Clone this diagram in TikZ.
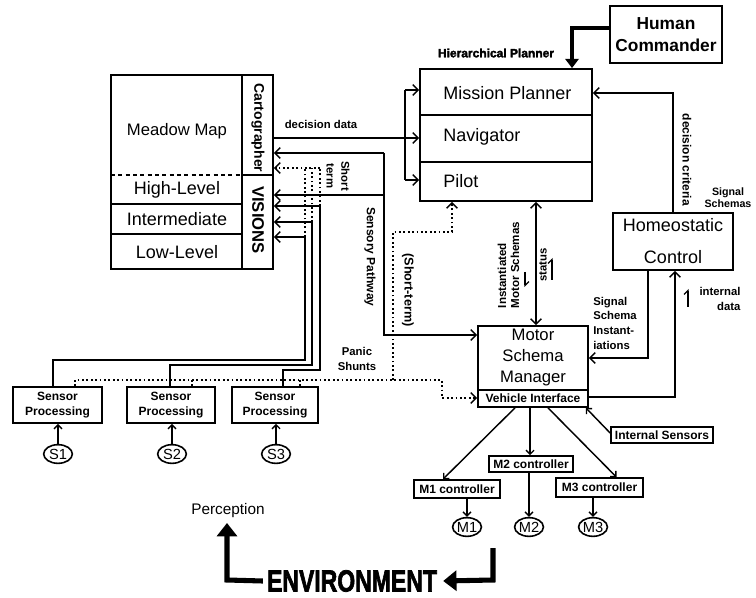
\documentclass[tikz,border=0pt]{standalone}
\usepackage{fontspec}
\setmainfont{Liberation Sans}
\newfontfamily\heavyfont[BoldFeatures={FakeBold=2.5}]{Liberation Sans}
\usetikzlibrary{arrows.meta,fit,shapes.geometric,calc}
\tikzset{
  ln/.style={line width=1.3pt},
  arr/.style={line width=1.3pt,-{Straight Barb[length=4pt,width=8pt,line width=1.1pt]}},
  sarr/.style={line width=1.1pt,-{Straight Barb[length=3pt,width=6pt,line width=1pt]}},
  dbl/.style={line width=1.3pt,{Straight Barb[length=4pt,width=8pt,line width=1.1pt]}-{Straight Barb[length=4pt,width=8pt,line width=1.1pt]}},
  dotl/.style={line width=1.3pt,dash pattern=on 1.3pt off 2pt},
  dotarr/.style={dotl,-{Straight Barb[length=4pt,width=8pt,line width=1.1pt]}},
  pbox/.style={draw,line width=1.3pt,inner sep=0pt},
  lbl/.style={font=\bfseries\fontsize{8.5}{11}\selectfont,inner sep=0pt,align=center},
  sbold/.style={font=\bfseries\fontsize{9}{11.25}\selectfont,align=center,inner sep=0pt},
  cbold/.style={font=\bfseries\fontsize{9}{10}\selectfont,inner sep=0pt},
  txt/.style={font=\fontsize{13.5}{16}\selectfont,inner sep=0pt},
  heavy/.style={font=\heavyfont\bfseries\fontsize{9}{10}\selectfont,inner sep=0pt},
  thickarr/.style={line width=2.6pt,-{Triangle[length=7pt,width=10pt]}},
  envarr/.style={line width=3.8pt,-{Triangle[length=10pt,width=15pt]}},
  circ/.style={draw,ellipse,line width=1.2pt,minimum width=21.5pt,minimum height=14pt,inner sep=0pt,font=\fontsize{11}{12}\selectfont},
  harp/.style={line width=0.9pt,-{Straight Barb[harpoon,length=3pt,width=6pt,line width=0.9pt]}}
}
\begin{document}
\begin{tikzpicture}[x=0.75pt,y=-0.75pt]
\useasboundingbox (0,0) rectangle (756,598);
\fill[white] (0,0) rectangle (756,598);

% ---------- left block (Cartographer / VISIONS) ----------
\node[pbox,fit={(111,75)(273,269)}] (leftblock) {};
\draw[ln] (242,75) -- (242,269);
\draw[ln,dash pattern=on 3pt off 2.5pt] (111,175) -- (242,175);
\draw[ln] (242,175) -- (273,175);
\draw[ln] (111,204) -- (242,204);
\draw[ln] (111,234) -- (242,234);
\node[font=\fontsize{12.5}{15}\selectfont,inner sep=0pt] (meadow) at (177,131) {Meadow Map};
\node[txt] (high) at (177,190) {High-Level};
\node[txt] (inter) at (177,219) {Intermediate};
\node[txt] (low) at (177,252) {Low-Level};
\node[font=\bfseries\fontsize{10.5}{12}\selectfont,rotate=-90,inner sep=0pt] (carto) at (258,128) {Cartographer};
\node[font=\bfseries\fontsize{12.5}{14}\selectfont,rotate=-90,inner sep=0pt] (visions) at (258,220) {VISIONS};

% ---------- hierarchical planner ----------
\node[heavy] (hplab) at (496,53) {Hierarchical Planner};
\node[pbox,fit={(420,69)(592,115)}] (mission) {};
\node[pbox,fit={(420,115)(592,162)}] (navigator) {};
\node[pbox,fit={(420,162)(592,201)}] (pilot) {};
\node[txt,anchor=west] (missiont) at (443,93) {Mission Planner};
\node[txt,anchor=west] (navt) at (443,137) {Navigator};
\node[txt,anchor=west] (pilott) at (443,181) {Pilot};

% ---------- human commander ----------
\node[pbox,fit={(610,6)(722,63)}] (hc) {};
\node[font=\bfseries\fontsize{13}{16.5}\selectfont,align=center,inner sep=0pt] (hct) at (hc.center) {Human\\Commander};

% ---------- homeostatic control ----------
\node[pbox,fit={(613,213)(733,270)}] (homeo) {};
\node[font=\fontsize{13.5}{24}\selectfont,align=center,inner sep=0pt] (homeot) at (homeo.center) {Homeostatic\\Control};
\node[lbl,font=\bfseries\fontsize{8}{9}\selectfont] (sgslab) at (728,198) {Signal\\Schemas};

% ---------- motor schema manager ----------
\node[pbox,fit={(478,326)(588,390)}] (msm) {};
\node[font=\fontsize{12.5}{15.75}\selectfont,align=center,inner sep=0pt] (msmt) at ($(msm.center)+(0,-1)$) {Motor\\Schema\\Manager};
\node[pbox,fit={(478,390)(588,407)}] (vi) {};
\node[cbold] (vit) at (vi.center) {Vehicle Interface};
\node[pbox,fit={(611,427)(713,443)}] (intsens) {};
\node[cbold] (intsenst) at (intsens.center) {Internal Sensors};

% ---------- motor controllers ----------
\node[pbox,fit={(414,480)(500,498)}] (m1c) {};
\node[cbold] (m1ct) at (m1c.center) {M1 controller};
\node[pbox,fit={(489,456)(573,472)}] (m2c) {};
\node[cbold] (m2ct) at (m2c.center) {M2 controller};
\node[pbox,fit={(556,478)(643,497)}] (m3c) {};
\node[cbold] (m3ct) at (m3c.center) {M3 controller};
\node[circ] (m1) at (467,527) {M1};
\node[circ] (m2) at (529,527) {M2};
\node[circ] (m3) at (593,527) {M3};

% ---------- sensors ----------
\node[pbox,fit={(13,387)(102,423)}] (s1box) {};
\node[sbold] (s1t) at (s1box.center) {Sensor\\Processing};
\node[pbox,fit={(127,387)(215,423)}] (s2box) {};
\node[sbold] (s2t) at (s2box.center) {Sensor\\Processing};
\node[pbox,fit={(232,387)(318,423)}] (s3box) {};
\node[sbold] (s3t) at (s3box.center) {Sensor\\Processing};
\node[circ] (s1) at (58,454) {S1};
\node[circ] (s2) at (172,454) {S2};
\node[circ] (s3) at (276,454) {S3};

% ---------- labels ----------
\node[lbl] (ddlab) at (321,124) {decision data};
\node[lbl,rotate=-90] (stlab) at (338,176) {Short\\term};
\node[lbl,rotate=-90,font=\bfseries\fontsize{9}{11}\selectfont] (splab) at (370,257) {Sensory Pathway};
\node[lbl,rotate=-90,font=\bfseries\fontsize{9.5}{11}\selectfont] (st2lab) at (408,290) {(Short-term)};
\node[lbl] (pslab) at (357,359) {Panic\\Shunts};
\node[lbl,rotate=90,align=left,font=\bfseries\fontsize{8.7}{9.75}\selectfont] (imslab) at (508.5,265) {Instantiated\\Motor Schemas};
\node[lbl,rotate=90] (statlab) at (543,265) {status};
\node[lbl,rotate=-90,font=\bfseries\fontsize{9}{11}\selectfont] (dclab) at (687,160) {decision criteria};
\node[lbl,align=left,anchor=west] (sslab) at (593,323) {Signal\\Schema\\Instant-\\iations};
\node[lbl,align=right] (idlab) at (720,299) {internal\\data};
\node[font=\fontsize{11.5}{12}\selectfont,inner sep=0pt] (perception) at (228,511) {Perception};
\node[font=\heavyfont\bfseries\fontsize{23}{23}\selectfont,xscale=0.75,inner sep=0pt] (env) at (352,581) {ENVIRONMENT};

% small direction marks
\coordinate (h1a) at (525,272); \coordinate (h1b) at (525,287);
\draw[harp] (h1a) -- (h1b);
\coordinate (h2a) at (552,280); \coordinate (h2b) at (552,258);
\draw[harp] (h2a) -- (h2b);
\coordinate (h3a) at (688,307); \coordinate (h3b) at (688,289);
\draw[harp] (h3a) -- (h3b);

% ---------- decision data to planner ----------
\coordinate (busT) at (405,90);
\coordinate (busM) at (405,138);
\coordinate (busB) at (405,180);
\draw[ln] (busM -| leftblock.east) -- (busM);
\draw[ln] (busT) -- (busB);
\draw[arr] (busT) -- (busT -| mission.west);
\draw[arr] (busM) -- (busM -| navigator.west);
\draw[arr] (busB) -- (busB -| pilot.west);

% ---------- sensory pathway ----------
\coordinate (spT) at (384,153);
\coordinate (spM) at (384,195);
\coordinate (spB) at (384,335);
\draw[arr] (spT) -- (spT -| leftblock.east);
\draw[arr] (spM) -- (spM -| leftblock.east);
\draw[arr] (spT) -- (spB) -- (spB -| msm.west);

% ---------- sensor lines to VISIONS ----------
\coordinate (k1) at (305,360);
\coordinate (k2) at (312,365);
\coordinate (k3) at (320,370);
\coordinate (v1) at (305,237);
\coordinate (v2) at (312,222);
\coordinate (v3) at (320,206);
\draw[arr] ($(s1box.north)+(-4.5,0)$) |- (k1) -- (v1) -- (v1 -| leftblock.east);
\draw[arr] ($(s2box.north)+(-1,0)$) |- (k2) -- (v2) -- (v2 -| leftblock.east);
\draw[arr] ($(s3box.north)+(8,0)$) |- (k3) -- (v3) -- (v3 -| leftblock.east);

% ---------- short term (dotted) ----------
\coordinate (st1) at (305,168);
\coordinate (st2) at (312,168);
\coordinate (st3) at (320,168);
\draw[dotl] (v1) -- (st1);
\draw[dotl] (v2) -- (st2);
\draw[dotl] (v3) -- (st3);
\draw[dotarr] (st3) -- (st3 -| leftblock.east);

% ---------- panic shunts (dotted) ----------
\coordinate (ps0) at (75,380);
\coordinate (psR) at (442,380);
\coordinate (psD) at (442,398);
\coordinate (psU) at (393,380);
\coordinate (psU2) at (393,232);
\coordinate (psP) at (452,232);
\coordinate (ps2) at (192,380);
\coordinate (ps3) at (300,380);
\draw[dotarr] (ps0 |- s1box.north) -- (ps0) -- (psR) -- (psD) -- (psD -| vi.west);
\draw[dotl] (ps2 |- s2box.north) -- (ps2);
\draw[dotl] (ps3 |- s3box.north) -- (ps3);
\draw[dotarr] (psU) -- (psU2) -- (psP) -- (psP |- pilot.south);

% ---------- pilot <-> motor schema manager ----------
\coordinate (pm) at (536,300);
\draw[dbl] (pm |- pilot.south) -- (pm |- msm.north);

% ---------- homeostatic control links ----------
\coordinate (dc) at (673,93);
\draw[arr] (dc |- homeo.north) -- (dc) -- (dc -| mission.east);
\coordinate (ss) at (648,358);
\draw[arr] (ss |- homeo.south) -- (ss) -- (ss -| msm.east);
\coordinate (idt) at (675,397);
\draw[arr] (idt -| vi.east) -- (idt) -- (idt |- homeo.south);

% ---------- human commander ----------
\coordinate (hcb) at (572,28);
\draw[thickarr] (hcb -| hc.west) -- (hcb) -- (hcb |- mission.north);

% ---------- vehicle interface to controllers ----------
\draw[sarr] ($(vi.south)+(-18,0)$) -- ($(m1c.north)+(-14,0)$);
\draw[sarr] ($(vi.south)+(-3,0)$) -- ($(m2c.north)+(-1,0)$);
\draw[sarr] ($(vi.south)+(15,0)$) -- ($(m3c.north)+(17,0)$);
\draw[sarr] ($(intsens.west)+(0,-2)$) -- ($(vi.south east)+(-3,0)$);
\draw[sarr] (m1.north |- m1c.south) -- (m1.north);
\draw[sarr] (m2.north |- m2c.south) -- (m2.north);
\draw[sarr] (m3.north |- m3c.south) -- (m3.north);

% ---------- sensors to processing ----------
\draw[sarr] (s1.north) -- (s1.north |- s1box.south);
\draw[sarr] (s2.north) -- (s2.north |- s2box.south);
\draw[sarr] (s3.north) -- (s3.north |- s3box.south);

% ---------- environment loop ----------
\coordinate (envL) at (227,580);
\coordinate (envTop) at (227,523);
\coordinate (envR1) at (493,548);
\coordinate (envR2) at (493,580);
\draw[envarr] ($(env.west)+(-4,0)$) -- (envL) -- (envTop);
\draw[envarr] (envR1) -- (envR2) -- ($(env.east)+(6,0)$);
\end{tikzpicture}
\end{document}
